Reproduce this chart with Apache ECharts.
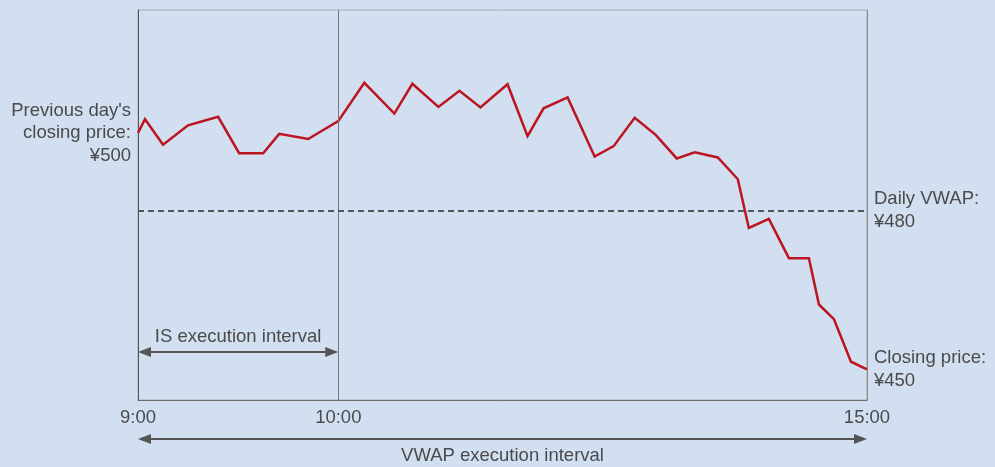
<!DOCTYPE html>
<html>
<head>
<meta charset="utf-8">
<script src="https://cdn.jsdelivr.net/npm/echarts@6/dist/echarts.min.js"></script>
<style>
  html, body { margin: 0; padding: 0; background: #d2dff1; }
  #main { width: 995px; height: 467px; }
</style>
</head>
<body>
<div id="main"></div>
<script>
// schematic time positions (9:00 = 0, 10:00 = 200, 15:00 = 728)
const tickPos = [0, 200, 728]
const tickLabels = ['9:00', '10:00', '15:00']
const xPos = [0, 7, 25, 50, 80, 101, 125, 141, 170, 200, 226, 256, 274, 300, 321, 342, 369, 389,
  405, 429, 456, 475, 496, 517, 538, 556, 579, 599, 610, 630, 650, 670, 680, 695, 712, 728]
const price = [500, 502.9, 497.5, 501.6, 503.4, 495.7, 495.7, 499.8, 498.7, 502.5, 510.6, 504.1,
  510.4, 505.5, 508.9, 505.4, 510.3, 499.3, 505.2, 507.5, 495.0, 497.2, 503.2, 499.6,
  494.6, 495.9, 494.8, 490.2, 479.9, 481.8, 473.5, 473.5, 463.7, 460.6, 451.6, 450]
const vwapLevel = 483.6 // where the schematic draws the ¥480 VWAP line
const isEnd = 200 // 10:00

const textColor = '#4a4a4a'
const fontFamily = 'Liberation Sans'
const fontSize = 18.5

const chart = echarts.init(document.getElementById('main'))
const lineData = xPos.map((x, i) => [x, price[i]])

chart.setOption({
  animation: false,
  backgroundColor: '#d2dff1',
  textStyle: { fontFamily: fontFamily },
  grid: {
    left: 138, right: 128, top: 10, bottom: 67,
    show: true, borderColor: '#ababab', borderWidth: 1
  },
  xAxis: {
    type: 'value',
    min: 0,
    max: 728,
    axisLine: { show: true, lineStyle: { color: '#6e6e6e', width: 1 } },
    axisTick: { show: false },
    splitLine: { show: false },
    axisLabel: {
      customValues: tickPos,
      formatter: function(v) { return tickLabels[tickPos.indexOf(v)] },
      color: textColor,
      fontSize: fontSize,
      margin: 8
    }
  },
  yAxis: [
    {
      type: 'value',
      min: 443.5,
      max: 526,
      axisLine: { show: true, lineStyle: { color: '#555', width: 1 } },
      axisTick: { show: false },
      axisLabel: { show: false },
      splitLine: { show: false }
    },
    {
      type: 'value',
      position: 'right',
      min: 443.5,
      max: 526,
      axisLine: { show: true, lineStyle: { color: '#888', width: 1 } },
      axisTick: { show: false },
      axisLabel: { show: false },
      splitLine: { show: false }
    }
  ],
  series: [
    {
      type: 'line',
      data: lineData,
      showSymbol: false,
      silent: true,
      lineStyle: { color: '#bd1421', width: 2.5, join: 'miter' },
      endLabel: {
        show: true,
        formatter: 'Closing price:\n¥450',
        color: textColor,
        fontSize: fontSize,
        lineHeight: 22.5,
        distance: 7,
        align: 'left'
      },
      markPoint: {
        silent: true,
        symbol: 'circle',
        symbolSize: 0,
        data: [
          {
            coord: [xPos[0], price[0]],
            label: {
              show: true,
              position: 'left',
              distance: 7,
              align: 'right',
              formatter: "Previous day's\nclosing price:\n¥500",
              color: textColor,
              fontSize: fontSize,
              lineHeight: 22.5
            }
          }
        ]
      },
      markLine: {
        silent: true,
        symbol: 'none',
        data: [
          {
            xAxis: isEnd,
            lineStyle: { color: '#777', width: 1, type: 'solid' },
            label: { show: false }
          },
          {
            yAxis: vwapLevel,
            lineStyle: { color: '#555', width: 2, type: [6, 4] },
            label: {
              show: true,
              position: 'end',
              distance: 7,
              formatter: 'Daily VWAP:\n¥480',
              color: textColor,
              fontSize: fontSize,
              lineHeight: 22.5,
              align: 'left'
            }
          }
        ]
      }
    }
  ]
})

// interval arrows below / inside the plot
function arrow(xa, xb, y) {
  const c = '#555'
  return [
    { type: 'line', silent: true, shape: { x1: xa + 8, y1: y, x2: xb - 8, y2: y }, style: { stroke: c, lineWidth: 2 } },
    { type: 'polygon', silent: true, shape: { points: [[xa, y], [xa + 13, y - 5], [xa + 13, y + 5]] }, style: { fill: c } },
    { type: 'polygon', silent: true, shape: { points: [[xb, y], [xb - 13, y - 5], [xb - 13, y + 5]] }, style: { fill: c } }
  ]
}
function label(text, x, y) {
  return {
    type: 'text', silent: true,
    style: { text: text, x: x, y: y, align: 'center', verticalAlign: 'middle', fill: textColor, fontSize: fontSize, fontFamily: fontFamily }
  }
}

const x0 = chart.convertToPixel({ xAxisIndex: 0 }, tickPos[0])
const x10 = chart.convertToPixel({ xAxisIndex: 0 }, isEnd)
const x15 = chart.convertToPixel({ xAxisIndex: 0 }, tickPos[2])
const yBottom = 400

chart.setOption({
  graphic: [].concat(
    arrow(x0, x10, yBottom - 48),
    [label('IS execution interval', (x0 + x10) / 2, yBottom - 63)],
    arrow(x0, x15, yBottom + 39),
    [label('VWAP execution interval', (x0 + x15) / 2, yBottom + 56)]
  )
})
</script>
</body>
</html>
